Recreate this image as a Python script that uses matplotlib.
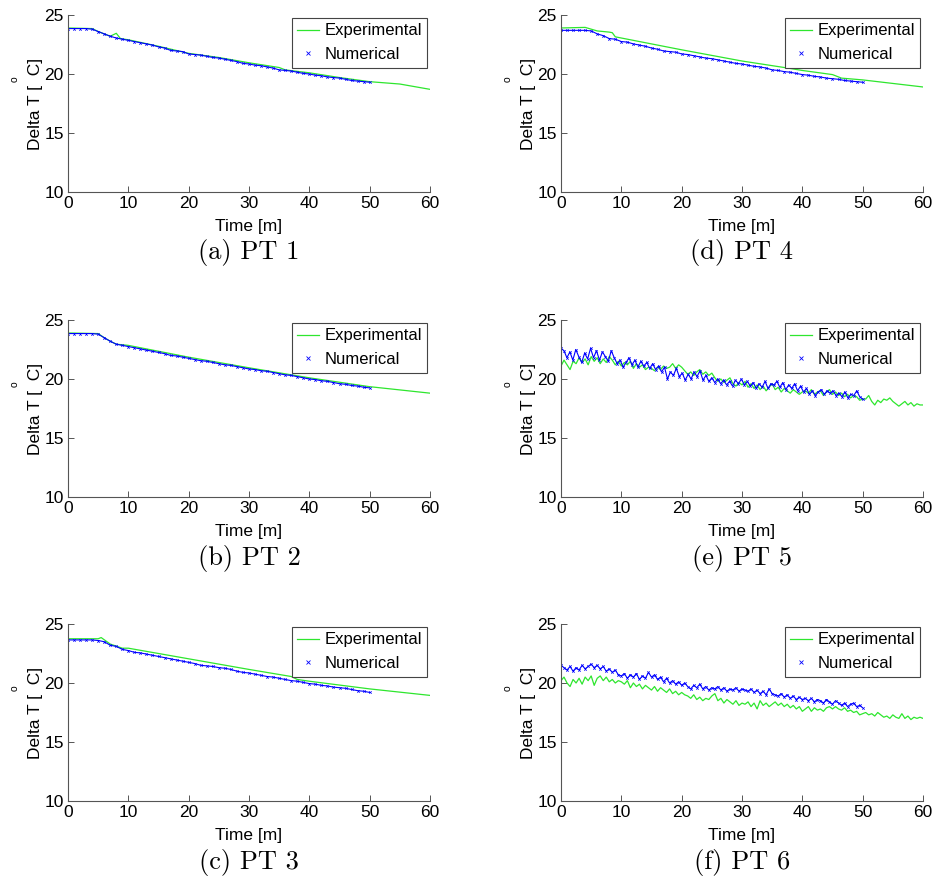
import numpy as np
import matplotlib
matplotlib.use("Agg")
import matplotlib.pyplot as plt
from matplotlib.lines import Line2D

plt.rcParams['font.family'] = ['Liberation Sans', 'DejaVu Sans']

# ---- data (Delta T in C, time in minutes) ----
# PT 1
pt1_exp_t = [0, 4, 5, 7, 8, 8.7, 10, 15, 20, 25, 30, 35, 36, 40, 45, 50, 55, 60]
pt1_exp_v = [23.9, 23.85, 23.6, 23.2, 23.45, 23.0, 22.9, 22.35, 21.75, 21.4,
             20.95, 20.55, 20.35, 20.1, 19.7, 19.35, 19.15, 18.7]
pt1_num_v = [23.85, 23.85, 23.85, 23.85, 23.8, 23.6, 23.4, 23.2, 23.05, 22.95,
             22.85, 22.75, 22.65, 22.55, 22.45, 22.3, 22.2, 22.0, 21.95, 21.9,
             21.7, 21.65, 21.6, 21.5, 21.4, 21.35, 21.25, 21.15, 21.05, 20.9,
             20.85, 20.75, 20.7, 20.6, 20.5, 20.35, 20.3, 20.25, 20.15, 20.05,
             20.0, 19.9, 19.85, 19.75, 19.7, 19.65, 19.55, 19.45, 19.4, 19.35, 19.3]

# PT 2
pt2_exp_t = [0, 5, 6, 7, 8, 10, 20, 30, 40, 50, 60]
pt2_exp_v = [23.9, 23.85, 23.5, 23.2, 22.95, 22.85, 21.85, 20.95, 20.1, 19.35, 18.8]
pt2_num_v = [23.85, 23.85, 23.85, 23.85, 23.85, 23.8, 23.5, 23.2, 22.95, 22.85,
             22.75, 22.65, 22.55, 22.45, 22.35, 22.25, 22.15, 22.0, 21.95, 21.85,
             21.75, 21.65, 21.55, 21.5, 21.4, 21.3, 21.2, 21.15, 21.05, 20.95,
             20.85, 20.8, 20.7, 20.65, 20.55, 20.45, 20.35, 20.3, 20.2, 20.1,
             20.0, 19.95, 19.85, 19.8, 19.7, 19.6, 19.55, 19.45, 19.4, 19.3, 19.25]

# PT 3
pt3_exp_t = [0, 5, 5.5, 7, 9, 10, 20, 30, 37, 38, 40, 50, 60]
pt3_exp_v = [23.75, 23.75, 23.85, 23.3, 22.95, 22.95, 22.05, 21.15, 20.55, 20.3,
             20.15, 19.5, 18.95]
pt3_num_v = [23.65, 23.65, 23.65, 23.65, 23.65, 23.6, 23.5, 23.2, 23.1, 22.85,
             22.75, 22.6, 22.55, 22.45, 22.35, 22.25, 22.15, 22.05, 21.95, 21.85,
             21.75, 21.65, 21.5, 21.45, 21.4, 21.3, 21.25, 21.15, 21.0, 20.9,
             20.85, 20.75, 20.65, 20.55, 20.5, 20.4, 20.3, 20.2, 20.15, 20.05,
             19.95, 19.9, 19.8, 19.75, 19.65, 19.6, 19.55, 19.45, 19.35, 19.3, 19.2]

# PT 4
pt4_exp_t = [0, 4, 6, 8, 8.5, 9, 10, 20, 30, 37, 40, 45, 46.5, 50, 60]
pt4_exp_v = [23.9, 23.95, 23.65, 23.55, 23.5, 23.15, 23.05, 22.05, 21.1, 20.55,
             20.3, 19.95, 19.65, 19.5, 18.9]
pt4_num_v = [23.7, 23.7, 23.7, 23.7, 23.7, 23.65, 23.4, 23.25, 23.0, 22.95,
             22.75, 22.7, 22.55, 22.45, 22.35, 22.2, 22.1, 21.95, 21.9, 21.85,
             21.7, 21.65, 21.55, 21.45, 21.35, 21.3, 21.2, 21.1, 21.0, 20.9,
             20.85, 20.75, 20.65, 20.6, 20.5, 20.35, 20.3, 20.2, 20.15, 20.05,
             19.95, 19.9, 19.8, 19.75, 19.65, 19.6, 19.55, 19.45, 19.4, 19.35, 19.3]

# PT 5 (noisy)
pt5_exp_v = [21.1, 21.6, 21.2, 20.8, 21.5, 21.3, 21.8, 21.4, 21.7, 21.2, 21.9,
             21.5, 21.8, 21.3, 21.7, 21.4, 21.9,
             21.6, 21.2, 21.5, 21.1, 21.4, 21.2, 21.5, 20.9, 21.3, 21.0, 21.2,
             20.8, 21.0, 20.9,
             20.7, 21.0, 20.8, 21.1, 20.9, 21.0, 21.3, 20.9, 21.2, 21.0,
             20.7, 20.4, 20.6, 20.3, 20.6, 20.8, 20.4, 20.6, 20.3, 20.5,
             20.1, 19.8, 20.0, 19.7, 19.9, 20.1, 19.6, 19.4, 19.7, 19.5,
             19.8, 19.3, 19.6, 19.2, 19.5, 19.1, 19.4, 19.0, 19.3, 19.6,
             19.1, 19.3, 18.9, 19.2, 19.0, 18.8, 19.1, 18.9, 18.7, 18.9,
             19.0, 18.8, 19.1, 18.7, 18.9, 19.0, 18.6, 18.9, 19.1, 18.7,
             18.9, 18.6, 18.8, 18.5, 18.7, 18.4, 18.6, 18.5, 18.2, 18.3,
             18.3, 18.6, 18.1, 17.8, 18.2, 18.0, 18.3, 18.2, 18.4, 18.1,
             17.9, 17.7, 17.9, 18.1, 17.8, 18.0, 17.7, 17.9, 17.8, 17.8]
pt5_num_v = [22.6, 22.4, 21.8, 22.3, 21.6, 22.5, 21.9, 21.4, 22.2, 21.7, 22.6, 21.8,
             22.4, 21.6, 22.3, 21.9, 21.5, 22.4, 21.8, 21.3, 21.6, 21.0, 21.4,
             21.8, 21.2, 21.6, 21.0, 21.5, 21.1, 21.4, 20.9, 21.3, 20.8,
             21.1, 20.6, 21.0, 20.0, 20.6, 20.3, 20.9, 20.2, 20.5, 19.9,
             20.4, 20.0, 20.6, 20.2, 20.7, 19.9, 20.3, 19.8, 20.1, 19.7,
             20.0, 19.6, 19.9, 19.5, 19.8, 19.4, 19.9, 19.6, 20.0, 19.5,
             19.8, 19.4, 19.7, 19.2, 19.6, 19.3, 19.8, 19.2, 19.6, 19.5,
             19.8, 19.3, 19.7, 19.1, 19.5, 19.2, 19.6, 19.0, 19.4, 18.9,
             19.2, 18.7, 19.0, 18.6, 18.9, 19.1, 18.7, 19.0, 18.8, 19.0,
             18.6, 18.8, 18.5, 18.9, 18.4, 18.7, 18.6, 19.0, 18.5, 18.3]

# PT 6 (noisy)
pt6_exp_v = [20.2, 20.5, 20.0, 19.7, 20.3, 20.0, 20.4, 19.9, 20.5, 20.2, 20.6,
             19.8, 20.4, 20.6, 20.2, 20.5, 20.1, 20.3, 20.0, 20.2, 20.1,
             19.9, 20.2, 19.6, 20.0, 19.7, 19.9, 19.5, 19.8, 19.6, 19.4,
             19.7, 19.3, 19.6, 19.4, 19.2, 19.5, 19.1, 19.3, 19.0, 19.2,
             19.0, 18.9, 18.7, 19.0, 18.6, 18.8, 18.5, 18.7, 18.6, 18.9,
             19.1, 18.5, 18.7, 18.3, 18.6, 18.4, 18.2, 18.5, 18.1, 18.3,
             18.2, 18.4, 18.0, 18.3, 17.8, 18.5, 18.1, 18.3, 18.0, 18.2,
             18.4, 18.1, 18.3, 18.0, 18.2, 17.9, 18.1, 17.8, 18.0, 17.6,
             17.8, 18.0, 17.6, 17.9, 17.7, 17.8, 17.6, 17.9, 18.0, 17.8,
             18.0, 17.8, 17.7, 17.9, 17.6, 17.7, 17.5, 17.6, 17.3, 17.4,
             17.5, 17.3, 17.4, 17.2, 17.5, 17.3, 17.1, 17.2, 17.0, 17.3,
             17.1, 17.0, 17.4, 17.0, 17.2, 16.9, 17.1, 17.0, 17.1, 17.0]
pt6_num_v = [21.5, 21.3, 21.1, 21.4, 21.0, 21.3, 21.1, 21.5, 21.2, 21.4, 21.6,
             21.3, 21.5, 21.2, 21.4, 21.0, 21.2, 20.9, 21.1, 20.7, 20.6,
             20.8, 20.4, 20.7, 20.5, 20.8, 20.3, 20.6, 20.4, 20.9, 20.5,
             20.7, 20.3, 20.5, 20.1, 20.4, 20.0, 20.2, 19.9, 20.1, 19.8,
             20.0, 19.7, 19.5, 19.8, 19.6, 19.9, 19.5, 19.7, 19.4, 19.6,
             19.5, 19.7, 19.4, 19.6, 19.3, 19.5, 19.4, 19.6, 19.3, 19.5,
             19.4, 19.3, 19.5, 19.2, 19.4, 19.1, 19.3, 19.0, 19.5, 19.1,
             19.0, 18.9, 19.1, 18.8, 19.0, 18.7, 18.9, 18.6, 18.8, 18.6,
             18.7, 18.5, 18.7, 18.4, 18.6, 18.5, 18.3, 18.6, 18.4, 18.2,
             18.5, 18.3, 18.1, 18.3, 18.0, 18.2, 18.3, 18.0, 18.1, 17.9]

captions = ["(a) PT 1", "(b) PT 2", "(c) PT 3", "(d) PT 4", "(e) PT 5", "(f) PT 6"]

panels = [
    (pt1_exp_t, pt1_exp_v, pt1_num_v),
    (pt2_exp_t, pt2_exp_v, pt2_num_v),
    (pt3_exp_t, pt3_exp_v, pt3_num_v),
    (pt4_exp_t, pt4_exp_v, pt4_num_v),
    (np.linspace(0, 60, len(pt5_exp_v)), pt5_exp_v, pt5_num_v),
    (np.linspace(0, 60, len(pt6_exp_v)), pt6_exp_v, pt6_num_v),
]

green = '#2ee62e'
blue = '#0000ff'

fig = plt.figure(figsize=(9.34, 8.81), dpi=100)
W, H = 934, 881
col_x = [68, 561]
col_w = 362
row_top = [15, 320, 624]
row_h = 177
cap_y = [252, 558, 862]

for i, (et, ev, nv) in enumerate(panels):
    col, row = i // 3, i % 3
    ax = fig.add_axes([col_x[col] / W, 1 - (row_top[row] + row_h) / H,
                       col_w / W, row_h / H])
    nt = np.linspace(0, 50, len(nv))
    ax.plot(et, ev, color=green, lw=0.9)
    ax.plot(nt, nv, color=blue, lw=0.8, marker='x', ms=1.8, mew=0.5)

    ax.set_xlim(0, 60)
    ax.set_ylim(10, 25)
    ax.set_xticks([0, 10, 20, 30, 40, 50, 60])
    ax.set_yticks([10, 15, 20, 25])
    for s in ['top', 'right']:
        ax.spines[s].set_visible(False)
    for s in ['left', 'bottom']:
        ax.spines[s].set_color('#555555')
        ax.spines[s].set_linewidth(0.8)
    ax.tick_params(direction='in', length=4, width=0.7, color='#555555',
                   labelsize=12.5, pad=3)

    ax.set_xlabel("Time [m]", fontsize=12.5)
    ax.xaxis.set_label_coords(0.5, -0.155)
    ax.set_ylabel("Delta T [  C]", fontsize=12.5)
    ax.yaxis.set_label_coords(-0.07, 0.5)
    ax.text(-0.148, 0.635, "o", transform=ax.transAxes, fontsize=7.5,
            rotation=90, ha='center', va='center')

    handles = [Line2D([], [], color=green, lw=0.9),
               Line2D([], [], color=blue, lw=0, marker='x', ms=2.5, mew=0.6)]
    leg = ax.legend(handles, ["Experimental", "Numerical"], loc='upper right',
                    fontsize=12, handlelength=1.3, handletextpad=0.3,
                    borderpad=0.35, borderaxespad=0.15, fancybox=False,
                    framealpha=1, edgecolor='#444444')
    leg.get_frame().set_linewidth(0.8)

    fig.text((col_x[col] + col_w / 2) / W, 1 - cap_y[row] / H, captions[i],
             family='cmr10', fontsize=19, ha='center', va='center')

fig.savefig("out.png", dpi=100)
